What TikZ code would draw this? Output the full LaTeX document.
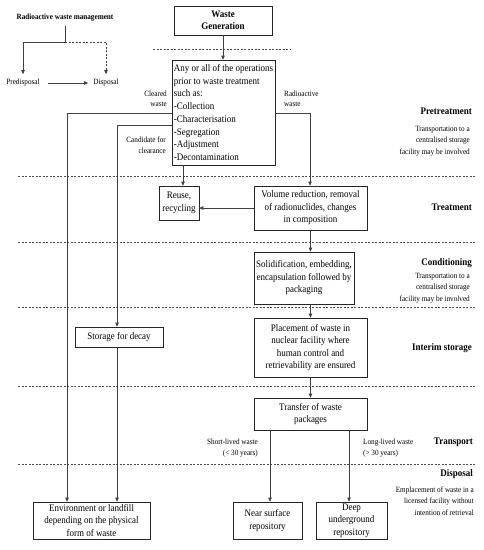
\documentclass[tikz,border=0pt]{standalone}
\usepackage{fontspec}
\setmainfont[FakeStretch=0.9]{Liberation Serif}
\usetikzlibrary{arrows.meta}
\begin{document}
\begin{tikzpicture}[x=1pt,y=-1pt,
  box/.style={draw=black!85, line width=0.7pt, align=center, inner sep=0pt,
    font=\fontsize{10}{12.5}\selectfont},
  lbl/.style={inner sep=0pt, font=\fontsize{8}{10.5}\selectfont},
  note/.style={inner sep=0pt, align=right, anchor=east, font=\fontsize{8}{11.5}\selectfont},
  stage/.style={inner sep=0pt, anchor=east, font=\fontsize{10}{12}\selectfont\bfseries},
  conn/.style={draw=black!75, line width=0.7pt},
  arr/.style={conn, -{Triangle[length=4pt,width=3.5pt]}},
  sep/.style={draw=black!70, line width=0.5pt, dash pattern=on 2pt off 1.5pt}]
\useasboundingbox (0,0) rectangle (484,550);
% separators
\draw[sep] (153,49) -- (291,49);
\draw[sep] (18,176) -- (475,176);
\draw[sep] (18,242) -- (475,242);
\draw[sep] (18,307) -- (475,307);
\draw[sep] (18,386) -- (475,386);
\draw[sep] (18,464) -- (475,464);
% legend
\node[inner sep=0pt, font=\fontsize{8}{10}\selectfont\bfseries] (leg) at (65,18) {Radioactive waste management};
\node[inner sep=5pt, font=\fontsize{8}{10}\selectfont] (pre) at (23,83) {Predisposal};
\node[inner sep=5pt, font=\fontsize{8}{10}\selectfont] (dis) at (106,83) {Disposal};
\coordinate (lj) at (65,42);
\draw[arr] ([yshift=-4pt]leg.south) -- (lj) -| (pre.north);
\draw[arr, dash pattern=on 2pt off 1.5pt] (lj) -| (dis.north);
\draw[arr] ([xshift=3pt]pre.east) -- (dis.west);
% boxes
\node[box, minimum width=98pt, minimum height=29pt, font=\fontsize{10}{12.5}\selectfont\bfseries] (wg) at (223,20.5) {Waste\\Generation};
\node[box, minimum width=103pt, minimum height=105pt, align=left, font=\fontsize{10}{12.7}\selectfont] (ops) at (223.5,112.5)
  {Any or all of the operations\\prior to waste treatment\\such as:\\-Collection\\-Characterisation\\-Segregation\\-Adjustment\\-Decontamination};
\node[box, minimum width=40pt, minimum height=34pt] (reuse) at (179,203) {Reuse,\\recycling};
\node[box, minimum width=113pt, minimum height=44pt] (vol) at (310.5,208) {Volume reduction, removal\\of radionuclides, changes\\in composition};
\node[box, minimum width=100pt, minimum height=52pt] (sol) at (304,278) {Solidification, embedding,\\encapsulation followed by\\packaging};
\node[box, minimum width=113pt, minimum height=59pt] (pla) at (310.5,347.5) {Placement of waste in\\nuclear facility where\\human control and\\retrievability are ensured};
\node[box, minimum width=113pt, minimum height=32pt] (tra) at (310.5,414) {Transfer of waste\\packages};
\node[box, minimum width=88pt, minimum height=20pt] (sto) at (119,337) {Storage for decay};
\node[box, minimum width=117pt, minimum height=37pt] (env) at (91.5,520.5) {Environment or landfill\\depending on the physical\\form of waste};
\node[box, minimum width=69pt, minimum height=37pt] (near) at (267.5,520.5) {Near surface\\repository};
\node[box, minimum width=71pt, minimum height=37pt] (deep) at (351.5,520.5) {Deep\\underground\\repository};
% connector labels
\node[lbl, align=right, anchor=east] (lclr) at (167,99) {Cleared\\waste};
\node[lbl, align=right, anchor=east] (lcand) at (166,145) {Candidate for\\clearance};
\node[lbl, align=left, anchor=west] (lrad) at (284,99) {Radioactive\\waste};
\node[lbl, align=right, anchor=east] (lshort) at (258,448) {Short-lived waste\\(< 30 years)};
\node[lbl, align=left, anchor=west] (llong) at (363,448) {Long-lived waste\\(> 30 years)};
% stage labels
\node[stage] (s1) at (472,111) {Pretreatment};
\node[note] (n1) at (470,141) {Transportation to a\\centralised storage\\facility may be involved};
\node[stage] (s2) at (472,207) {Treatment};
\node[stage] (s3) at (472,263) {Conditioning};
\node[note] (n3) at (470,288) {Transportation to a\\centralised storage\\facility may be involved};
\node[stage] (s4) at (472,348) {Interim storage};
\node[stage] (s5) at (473,442) {Transport};
\node[stage] (s6) at (473,474) {Disposal};
\node[note] (n6) at (474,501) {Emplacement of waste in a\\licensed facility without\\intention of retrieval};
% connectors
\coordinate (clr) at (67,113);
\coordinate (cand) at (117,125);
\coordinate (rad) at (310,113);
\coordinate (ru) at (183,0);
\coordinate (sl) at (270,0);
\coordinate (dp) at (349,0);
\draw[arr] (wg.south) -- (wg.south |- ops.north);
\draw[arr] (ops.west |- clr) -- (clr) -- (clr |- env.north);
\draw[arr] (ops.west |- cand) -- (cand) -- (cand |- sto.north);
\draw[arr] (sto.south -| cand) -- (cand |- env.north);
\draw[arr] (ops.east |- rad) -- (rad) -- (rad |- vol.north);
\draw[arr] (ops.south -| ru) -- (reuse.north -| ru);
\draw[arr] (vol.west) -- (vol.west -| reuse.east);
\draw[arr] (vol.south) -- (vol.south |- sol.north);
\draw[arr] (sol.south -| vol.south) -- (pla.north);
\draw[arr] (pla.south) -- (tra.north);
\draw[arr] (tra.south -| sl) -- (near.north -| sl);
\draw[arr] (tra.south -| dp) -- (deep.north -| dp);
\end{tikzpicture}
\end{document}
